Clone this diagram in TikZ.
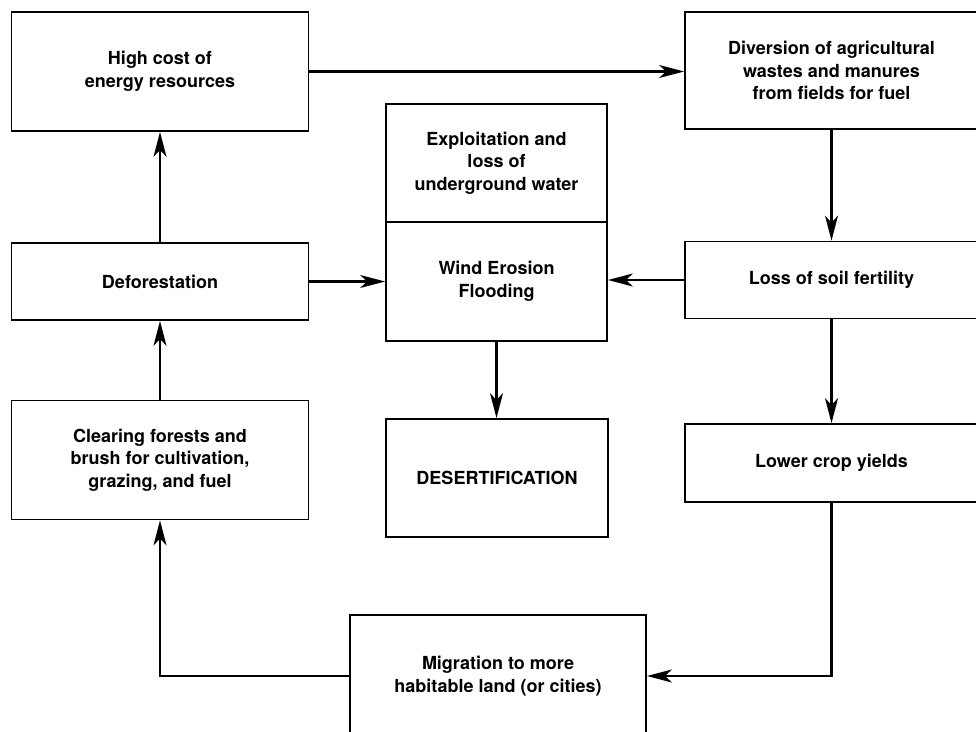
\documentclass[tikz,border=0pt]{standalone}
\usepackage{fontspec}
\setmainfont{TeX Gyre Heros}
\usetikzlibrary{arrows.meta}
\begin{document}
\begin{tikzpicture}[x=1pt,y=-1pt,
  box/.style={draw, line width=1.8pt, rectangle, inner sep=0pt, align=center,
    font=\bfseries\fontsize{18}{22.5}\selectfont},
  conn/.style={line width=2.2pt, -{Stealth[length=25pt,width=13pt,inset=7pt]}}]
\useasboundingbox (0,0) rectangle (976,731);
\clip (0,0) rectangle (976,731);
\node[box, minimum width=297pt, minimum height=119pt] (hc) at (160,71.5) {High cost of\\energy resources};
\node[box, minimum width=293pt, minimum height=117pt] (div) at (831.5,70.5) {Diversion of agricultural\\wastes and manures\\from fields for fuel};
\node[box, minimum width=221pt, minimum height=118pt] (up) at (496.5,163) {Exploitation and\\loss of\\underground water};
\node[box, minimum width=221pt, minimum height=119pt] (low) at (496.5,281.5) {Wind Erosion\\Flooding};
\node[box, minimum width=297pt, minimum height=77pt] (def) at (160,281.5) {Deforestation};
\node[box, minimum width=293pt, minimum height=77pt] (loss) at (831.5,280) {Loss of soil fertility};
\node[box, minimum width=297pt, minimum height=119pt] (clr) at (160,460) {Clearing forests and\\brush for cultivation,\\grazing, and fuel};
\node[box, minimum width=222pt, minimum height=118pt] (des) at (497,478) {DESERTIFICATION};
\node[box, minimum width=293pt, minimum height=78pt] (yld) at (831.5,463) {Lower crop yields};
\node[box, minimum width=296pt, minimum height=122pt] (mig) at (498,676) {Migration to more\\habitable land (or cities)};
\draw[conn] (hc.east) -- (hc.east -| div.west);
\draw[conn] (div.south) -- (loss.north);
\draw[conn] (loss.west) -- (loss.west -| low.east);
\draw[conn] (def.east) -- (def.east -| low.west);
\draw[conn] (def.north) -- (hc.south);
\draw[conn] (clr.north) -- (def.south);
\draw[conn] (low.south) -- (low.south |- des.north);
\draw[conn] (loss.south) -- (yld.north);
\draw[conn] (yld.south) -- (yld.south |- mig.east) -- (mig.east);
\draw[conn] (mig.west) -- (mig.west -| clr.south) -- (clr.south);
\end{tikzpicture}
\end{document}
